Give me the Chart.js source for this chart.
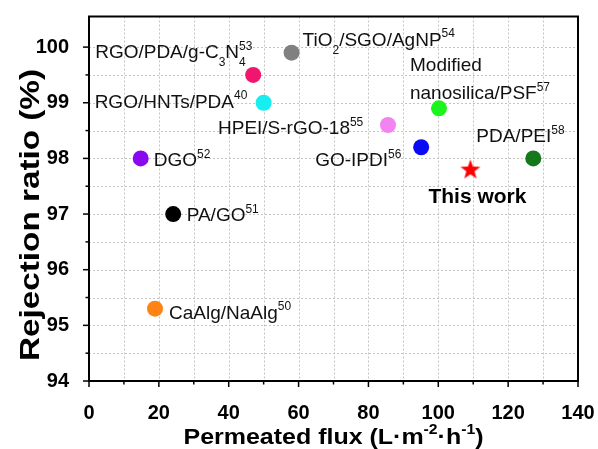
<!DOCTYPE html>
<html>
<head>
<meta charset="utf-8">
<script src="https://cdn.jsdelivr.net/npm/chart.js@4.4.1/dist/chart.umd.min.js"></script>
<style>
html,body{margin:0;padding:0;background:#fff;}
canvas{display:block;}
</style>
</head>
<body>
<canvas id="c" width="598" height="449"></canvas>
<script>
// ---- data ----
const names = ['RGO/PDA/g-C3N4', 'TiO2/SGO/AgNP', 'RGO/HNTs/PDA', 'HPEI/S-rGO-18', 'Modified nanosilica/PSF', 'DGO', 'GO-IPDI', 'PDA/PEI', 'PA/GO', 'CaAlg/NaAlg'];
const refs = ['53', '54', '40', '55', '57', '52', '56', '58', '51', '50'];
const flux = [47, 58, 50, 85.6, 100.2, 14.8, 95.1, 127.2, 24.1, 18.9];
const rejection = [99.5, 99.9, 99.0, 98.6, 98.9, 98.0, 98.2, 98.0, 97.0, 95.3];
const thisWorkFlux = [109.2];
const thisWorkRejection = [97.8];
const xTicks = [0, 20, 40, 60, 80, 100, 120, 140];
const yTicks = [94, 95, 96, 97, 98, 99, 100];

// ---- styles ----
const colors = ['#f0166e', '#808080', '#16eef0', '#f283f0', '#1cf51c', '#8a08f0', '#0a0af5', '#13791a', '#000000', '#ff8314'];
const FONT = "Arial, 'Liberation Sans', sans-serif";

const labelSegs = [
  [{t:'RGO/PDA/g-C'},{t:'3',k:'sub'},{t:'N'},{t:'4',k:'sub',noadv:true},{t:'53',k:'sup'}],
  [{t:'TiO'},{t:'2',k:'sub'},{t:'/SGO/AgNP'},{t:'54',k:'sup'}],
  [{t:'RGO/HNTs/PDA'},{t:'40',k:'sup'}],
  [{t:'HPEI/S-rGO-18'},{t:'55',k:'sup'}],
  null,
  [{t:'DGO'},{t:'52',k:'sup'}],
  [{t:'GO-IPDI'},{t:'56',k:'sup'}],
  [{t:'PDA/PEI'},{t:'58',k:'sup'}],
  [{t:'PA/GO'},{t:'51',k:'sup'}],
  [{t:'CaAlg/NaAlg'},{t:'50',k:'sup'}]
];
const labelOff = [[-158,-17],[11,-7],[-169,5],[-170,9],[-29,-37],[13,8],[-106,19],[-57,-16],[13.5,7],[14,10]];

function drawRich(ctx, segs, x, y, size, bold, measureOnly){
  let cx = x;
  const w = bold ? 'bold ' : '';
  for (const s of segs){
    let fs = size, dy = 0;
    if (s.k === 'sub'){ fs = size*0.63; dy = size*0.42; }
    if (s.k === 'sup'){ fs = size*0.63; dy = -size*0.44; }
    ctx.font = w + fs + 'px ' + FONT;
    if (!measureOnly) ctx.fillText(s.t, cx, y + dy);
    if (!s.noadv) cx += ctx.measureText(s.t).width;
  }
  return cx - x;
}

const star = document.createElement('canvas');
star.width = 22; star.height = 22;
(function(){
  const g = star.getContext('2d');
  g.fillStyle = '#ff0000';
  g.beginPath();
  for (let i=0;i<10;i++){
    const r = i%2===0 ? 10.5 : 4.3;
    const a = -Math.PI/2 + i*Math.PI/5;
    const px = 11 + r*Math.cos(a), py = 11.5 + r*Math.sin(a);
    if (i===0) g.moveTo(px,py); else g.lineTo(px,py);
  }
  g.closePath(); g.fill();
})();

function zeroPad(s){ s.paddingTop = 0; s.paddingBottom = 0; s.paddingLeft = 0; s.paddingRight = 0; }

const decor = {
  id: 'decor',
  beforeDatasetsDraw(chart){
    const ctx = chart.ctx, xs = chart.scales.x, ys = chart.scales.y, a = chart.chartArea;
    ctx.save();
    ctx.strokeStyle = '#c4c4c4'; ctx.lineWidth = 1; ctx.setLineDash([2, 2]);
    for (let v=10; v<140; v+=10){
      const px = Math.round(xs.getPixelForValue(v)) + 0.5;
      ctx.beginPath(); ctx.moveTo(px, a.top); ctx.lineTo(px, a.bottom); ctx.stroke();
    }
    for (let v=94.5; v<=100.001; v+=0.5){
      const py = Math.round(ys.getPixelForValue(v)) + 0.5;
      ctx.beginPath(); ctx.moveTo(a.left, py); ctx.lineTo(a.right, py); ctx.stroke();
    }
    ctx.restore();
  },
  afterDraw(chart){
    const ctx = chart.ctx, xs = chart.scales.x, ys = chart.scales.y, a = chart.chartArea;
    ctx.save();
    ctx.strokeStyle = '#000'; ctx.lineWidth = 1.5;
    for (let v=0; v<=140; v+=10){
      const px = xs.getPixelForValue(v);
      const len = (v%20===0) ? 6 : 3.5;
      ctx.beginPath(); ctx.moveTo(px, a.bottom); ctx.lineTo(px, a.bottom+len); ctx.stroke();
    }
    for (let v=94; v<=100.001; v+=0.5){
      const py = ys.getPixelForValue(v);
      const len = (Math.abs(v-Math.round(v))<1e-6) ? 6 : 3.5;
      ctx.beginPath(); ctx.moveTo(a.left, py); ctx.lineTo(a.left-len, py); ctx.stroke();
    }
    ctx.lineWidth = 2;
    ctx.strokeRect(a.left, a.top, a.right-a.left, a.bottom-a.top);

    ctx.fillStyle = '#111';
    ctx.textBaseline = 'alphabetic';
    ctx.textAlign = 'left';
    const meta = chart.getDatasetMeta(0);
    meta.data.forEach((pt, i) => {
      const [dx, dy] = labelOff[i];
      if (labelSegs[i]) {
        drawRich(ctx, labelSegs[i], pt.x + dx, pt.y + dy, 19, false);
      } else {
        drawRich(ctx, [{t:'Modified'}], pt.x + dx, pt.y + dy, 19, false);
        drawRich(ctx, [{t:'nanosilica/PSF'},{t:refs[i],k:'sup'}], pt.x + dx, pt.y + dy + 28, 19, false);
      }
    });
    const sp = chart.getDatasetMeta(1).data[0];
    ctx.fillStyle = '#000';
    ctx.font = 'bold 21px ' + FONT;
    ctx.fillText('This work', sp.x - 42, sp.y + 33.5);

    const xt = [{t:'Permeated flux (L\u00b7m'},{t:'-2',k:'sup'},{t:'\u00b7h'},{t:'-1',k:'sup'},{t:')'}];
    const wx = drawRich(ctx, xt, 0, 0, 22, true, true);
    const targetX = 300;
    ctx.save();
    ctx.translate((a.left+a.right)/2 - targetX/2, 444);
    ctx.scale(targetX/wx, 1);
    drawRich(ctx, xt, 0, 0, 22, true, false);
    ctx.restore();

    const yt = 'Rejection ratio (%)';
    ctx.font = 'bold 27px ' + FONT;
    const wy = ctx.measureText(yt).width;
    const targetY = 292;
    ctx.save();
    ctx.translate(39, 215);
    ctx.rotate(-Math.PI/2);
    ctx.scale(targetY/wy, 1);
    ctx.textAlign = 'center';
    ctx.fillText(yt, 0, 0);
    ctx.restore();
    ctx.restore();
  }
};

const chart = new Chart(document.getElementById('c'), {
  type: 'scatter',
  data: {
    datasets: [
      {
        data: flux.map((x, i) => ({x, y: rejection[i]})),
        pointBackgroundColor: colors,
        pointBorderWidth: 0,
        pointBorderColor: 'rgba(0,0,0,0)',
        pointRadius: 8,
        pointHoverRadius: 8
      },
      {
        data: thisWorkFlux.map((x, i) => ({x, y: thisWorkRejection[i]})),
        pointStyle: star,
        pointRadius: 11
      }
    ]
  },
  options: {
    responsive: false,
    animation: false,
    devicePixelRatio: 1,
    layout: { autoPadding: false, padding: { left: 0, top: 16.5, right: 20, bottom: 0 } },
    plugins: { legend: { display: false }, tooltip: { enabled: false } },
    scales: {
      x: {
        type: 'linear', min: 0, max: 140,
        afterFit(s){ s.height = 68; zeroPad(s); },
        afterBuildTicks(s){
          const t = [];
          for (let v = 0; v <= 140; v += 10) t.push({value: v});
          s.ticks = t;
        },
        ticks: {
          autoSkip: false, maxRotation: 0, padding: 12,
          color: '#000', font: { family: FONT, size: 20, weight: 'bold' },
          callback: v => xTicks.includes(v) ? String(v) : ''
        },
        grid: { display: false },
        border: { display: false }
      },
      y: {
        type: 'linear', min: 94, max: 100.55,
        afterFit(s){ s.width = 89; zeroPad(s); },
        afterBuildTicks(s){
          const t = [];
          for (let k = 0; k <= 12; k++) t.push({value: 94 + k*0.5});
          s.ticks = t;
        },
        ticks: {
          autoSkip: false, padding: 12,
          color: '#000', font: { family: FONT, size: 20, weight: 'bold' },
          callback: v => yTicks.some(t => Math.abs(t - v) < 1e-6) ? String(Math.round(v)) : ''
        },
        grid: { display: false },
        border: { display: false }
      }
    }
  },
  plugins: [decor]
});
</script>
</body>
</html>
